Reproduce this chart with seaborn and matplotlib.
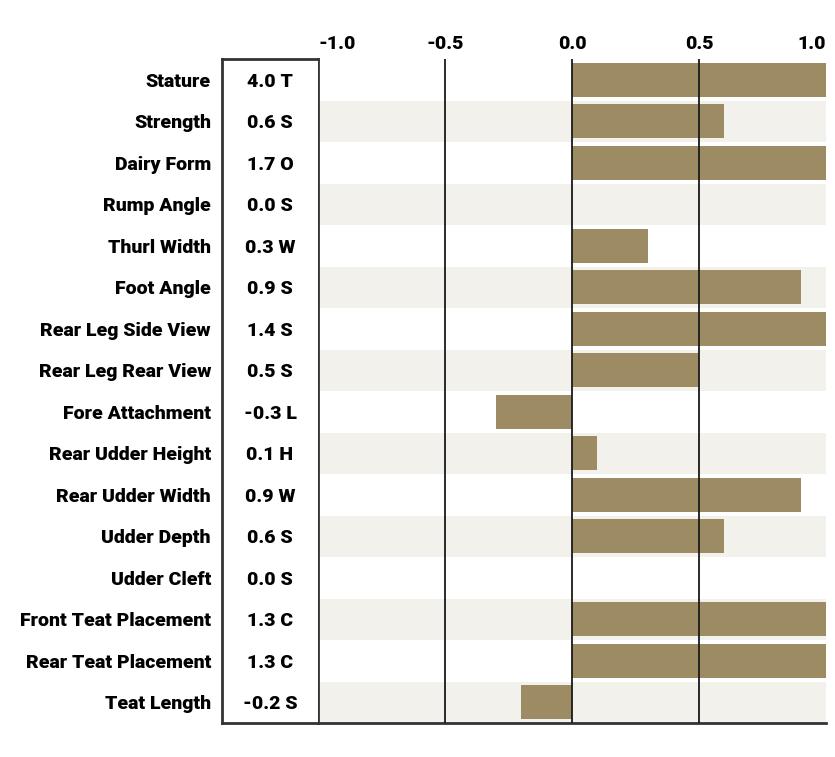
import pandas as pd
import numpy as np
import matplotlib.pyplot as plt
import seaborn as sns

# Trait data
traits = ['Stature', 'Strength', 'Dairy Form', 'Rump Angle', 'Thurl Width',
          'Foot Angle', 'Rear Leg Side View', 'Rear Leg Rear View',
          'Fore Attachment', 'Rear Udder Height', 'Rear Udder Width',
          'Udder Depth', 'Udder Cleft', 'Front Teat Placement',
          'Rear Teat Placement', 'Teat Length']
values = [4.0, 0.6, 1.7, 0.0, 0.3, 0.9, 1.4, 0.5, -0.3, 0.1, 0.9, 0.6, 0.0, 1.3, 1.3, -0.2]
letters = ['T', 'S', 'O', 'S', 'W', 'S', 'S', 'S', 'L', 'H', 'W', 'S', 'S', 'C', 'C', 'S']
xticks = [-1.0, -0.5, 0.0, 0.5, 1.0]

df = pd.DataFrame({'Trait': traits, 'Value': values, 'Letter': letters})
df['Label'] = [f'{v:.1f} {l}' for v, l in zip(df['Value'], df['Letter'])]

sns.set_style('white')
plt.rcParams['font.family'] = ['Roboto', 'DejaVu Sans']
plt.rcParams['text.color'] = 'black'
plt.rcParams['xtick.color'] = 'black'
plt.rcParams['ytick.color'] = 'black'

FS = 14
FW = 'black'

W, H = 835, 757
fig = plt.figure(figsize=(W / 100, H / 100), dpi=100)
top, bottom = 59, 723
ax = fig.add_axes([318 / W, (H - bottom) / H, (826 - 318) / W, (bottom - top) / H])
axb = fig.add_axes([222 / W, (H - bottom) / H, (318 - 222) / W, (bottom - top) / H])

n = len(traits)
# alternating stripes
for i in range(n):
    if i % 2 == 1:
        ax.axhspan(i - 0.5, i + 0.5, color='#f3f1ec', zorder=0, lw=0)

sns.barplot(data=df, x='Value', y='Trait', orient='h', color='#9c8b63',
            saturation=1, width=0.82, linewidth=0, ax=ax, zorder=2)
for x in [-0.5, 0.0, 0.5]:
    ax.axvline(x, color='#1a1a1a', lw=1.3, zorder=3)

ax.set_xlim(-1, 1)
ax.set_ylim(n - 0.5, -0.5)
ax.xaxis.tick_top()
ax.set_xticks(xticks)
ax.set_xticklabels([f'{t:.1f}' for t in xticks], fontsize=FS, fontweight=FW)
ax.get_xticklabels()[0].set_ha('left')
ax.get_xticklabels()[-1].set_ha('right')
ax.tick_params(axis='x', length=0, pad=4)
ax.set_yticks([])
ax.set_xlabel('')
ax.set_ylabel('')
for s in ['top', 'right']:
    ax.spines[s].set_visible(False)
for s in ['left', 'bottom']:
    ax.spines[s].set_color('#333333')
    ax.spines[s].set_linewidth(2)

# label box
axb.set_xlim(0, 1)
axb.set_ylim(n - 0.5, -0.5)
axb.set_xticks([])
axb.set_yticks(range(n))
axb.set_yticklabels(df['Trait'], fontsize=FS, fontweight=FW)
axb.tick_params(axis='y', length=0, pad=8)
for i, lab in enumerate(df['Label']):
    axb.text(0.5, i + 0.05, lab, ha='center', va='center', fontsize=FS, fontweight=FW)
axb.spines['right'].set_visible(False)
for s in ['left', 'top', 'bottom']:
    axb.spines[s].set_color('#333333')
    axb.spines[s].set_linewidth(2)

plt.savefig('out.png', dpi=100)
